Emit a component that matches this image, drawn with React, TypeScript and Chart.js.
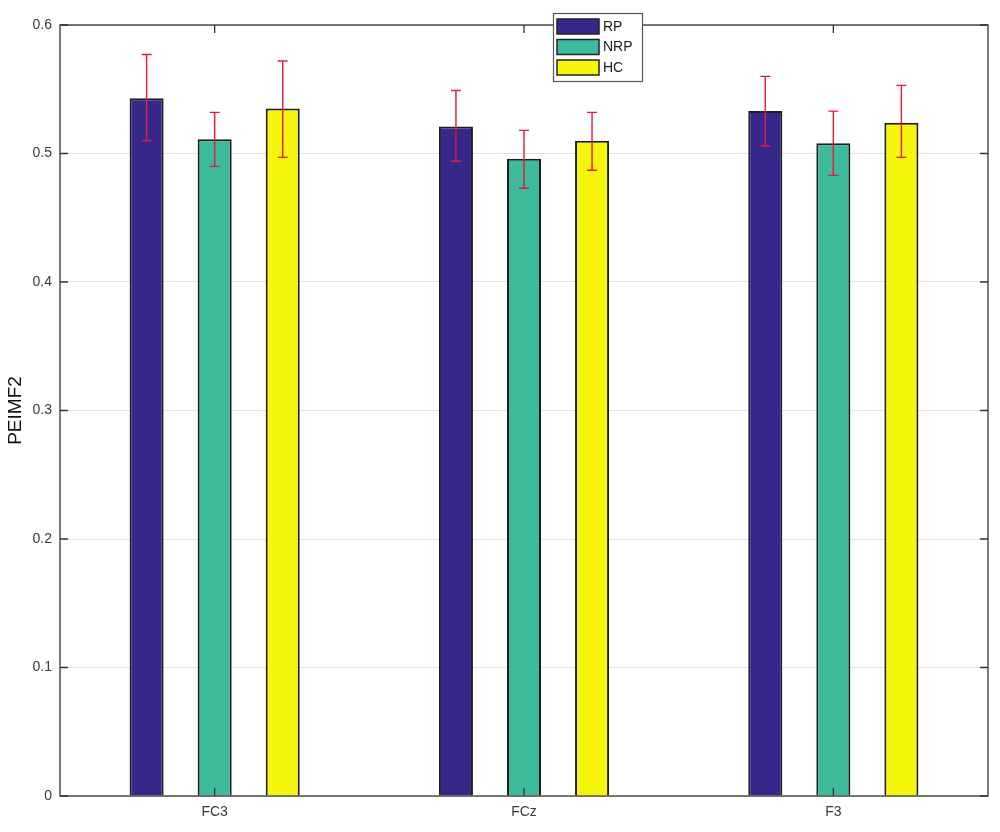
import React, { useEffect, useRef } from "react";
import { Chart, registerables } from "chart.js";

Chart.register(...registerables);

const categories = ["FC3", "FCz", "F3"];
const seriesNames = ["RP", "NRP", "HC"];
const rpValues = [0.543, 0.521, 0.533];
const nrpValues = [0.511, 0.496, 0.508];
const hcValues = [0.535, 0.510, 0.524];
const rpUpper = [0.577, 0.549, 0.560];
const rpLower = [0.510, 0.494, 0.506];
const nrpUpper = [0.532, 0.518, 0.533];
const nrpLower = [0.490, 0.473, 0.483];
const hcUpper = [0.572, 0.532, 0.553];
const hcLower = [0.497, 0.487, 0.497];
const yTicks = [0, 0.1, 0.2, 0.3, 0.4, 0.5, 0.6];

const colors = ["#35288a", "#3bbb9c", "#f6f60c"];
const FONT = "'Liberation Sans', Arial, sans-serif";

const upperAll = [rpUpper, nrpUpper, hcUpper];
const lowerAll = [rpLower, nrpLower, hcLower];

const errorBarPlugin = {
  id: "errorBars",
  afterDatasetsDraw(chart: any) {
    const ctx = chart.ctx;
    const y = chart.scales.y;
    ctx.save();
    ctx.strokeStyle = "#e8183c";
    ctx.lineWidth = 1.4;
    chart.data.datasets.forEach((_: any, i: number) => {
      const meta = chart.getDatasetMeta(i);
      meta.data.forEach((el: any, j: number) => {
        const x = el.x;
        const yh = y.getPixelForValue(upperAll[i][j]);
        const yl = y.getPixelForValue(lowerAll[i][j]);
        ctx.beginPath();
        ctx.moveTo(x, yh);
        ctx.lineTo(x, yl);
        ctx.moveTo(x - 5, yh);
        ctx.lineTo(x + 5, yh);
        ctx.moveTo(x - 5, yl);
        ctx.lineTo(x + 5, yl);
        ctx.stroke();
      });
    });
    ctx.restore();
  },
};

const framePlugin = {
  id: "frame",
  afterDraw(chart: any) {
    const ctx = chart.ctx;
    const { left, right, top, bottom } = chart.chartArea;
    const y = chart.scales.y;
    const x = chart.scales.x;
    ctx.save();
    ctx.strokeStyle = "#333333";
    ctx.lineWidth = 1.3;
    ctx.strokeRect(left, top, right - left, bottom - top);
    ctx.beginPath();
    yTicks.forEach((v) => {
      const py = y.getPixelForValue(v);
      ctx.moveTo(left, py);
      ctx.lineTo(left + 8, py);
      ctx.moveTo(right, py);
      ctx.lineTo(right - 8, py);
    });
    categories.forEach((_, i) => {
      const px = x.getPixelForValue(i);
      ctx.moveTo(px, bottom);
      ctx.lineTo(px, bottom - 8);
      ctx.moveTo(px, top);
      ctx.lineTo(px, top + 8);
    });
    ctx.stroke();

    // legend
    const lx = 553, ly = 13, lw = 89, lh = 68;
    ctx.fillStyle = "#ffffff";
    ctx.fillRect(lx, ly, lw, lh);
    ctx.strokeStyle = "#555555";
    ctx.lineWidth = 1.2;
    ctx.strokeRect(lx + 0.5, ly + 0.5, lw, lh);
    ctx.font = `14px ${FONT}`;
    ctx.textBaseline = "middle";
    ctx.textAlign = "left";
    seriesNames.forEach((name, i) => {
      const sy = ly + 6 + i * 20.5;
      ctx.fillStyle = colors[i];
      ctx.fillRect(lx + 4, sy, 42, 15);
      ctx.strokeStyle = "#222222";
      ctx.lineWidth = 1.5;
      ctx.strokeRect(lx + 4, sy, 42, 15);
      ctx.fillStyle = "#1a1a1a";
      ctx.fillText(name, lx + 50, sy + 8);
    });
    ctx.restore();
  },
};

export default function App() {
  const ref = useRef<HTMLCanvasElement>(null);
  useEffect(() => {
    document.body.style.margin = "0";
    const chart = new Chart(ref.current as HTMLCanvasElement, {
      type: "bar",
      data: {
        labels: categories,
        datasets: [rpValues, nrpValues, hcValues].map((d, i) => ({
          label: seriesNames[i],
          data: d,
          backgroundColor: colors[i],
          borderColor: "#1e1e1e",
          borderWidth: 2,
          barPercentage: 0.5,
          categoryPercentage: 0.66,
        })),
      },
      options: {
        responsive: false,
        animation: false,
        devicePixelRatio: 1,
        layout: { padding: { top: 25, right: 12, left: 4, bottom: 0 } },
        plugins: { legend: { display: false }, tooltip: { enabled: false } },
        scales: {
          x: {
            grid: { display: false, drawTicks: false },
            border: { display: false },
            ticks: { color: "#3a3a3a", font: { family: FONT, size: 14 }, padding: 8 },
            afterFit: (s: any) => { s.height = 36; },
          },
          y: {
            min: 0,
            max: 0.6,
            afterBuildTicks: (s: any) => { s.ticks = yTicks.map((v) => ({ value: v })); },
            grid: { color: "#e2e2e2", drawTicks: false, lineWidth: 1 },
            border: { display: false },
            ticks: {
              color: "#3a3a3a",
              font: { family: FONT, size: 14 },
              padding: 8,
              callback: (v: any) => String(Math.round(Number(v) * 10) / 10),
            },
            title: {
              display: true,
              text: "PEIMF2",
              color: "#111111",
              font: { family: FONT, size: 19 },
              padding: { top: 0, bottom: 4 },
            },
            afterFit: (s: any) => { s.width = 56; },
          },
        },
      },
      plugins: [errorBarPlugin, framePlugin],
    });
    return () => chart.destroy();
  }, []);
  return (
    <div style={{ width: 1000, height: 832, background: "#fff" }}>
      <canvas ref={ref} width={1000} height={832} />
    </div>
  );
}
